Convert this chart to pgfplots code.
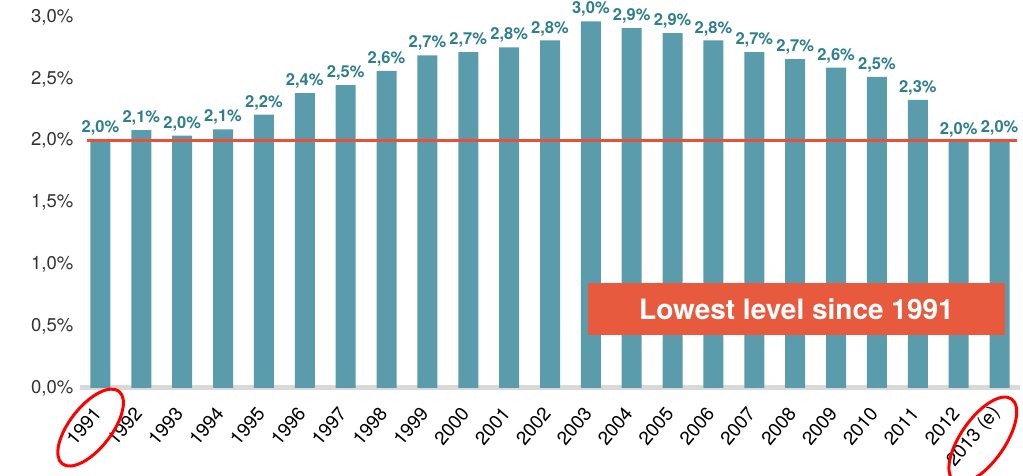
\documentclass[border=0pt]{standalone}
\usepackage{pgfplots}
\pgfplotsset{compat=1.18}
\usepackage{pgfplotstable}
\usepackage{fontspec}
\setmainfont{TeX Gyre Heros}

\definecolor{barteal}{HTML}{5A9CAC}
\definecolor{labteal}{HTML}{2F7F8E}
\definecolor{redline}{HTML}{E8503A}
\definecolor{boxred}{HTML}{E85A3D}
\definecolor{axisgray}{HTML}{D9D9D9}
\definecolor{ticktext}{HTML}{333333}

% x = position, v = bar height, lab = printed label
\pgfplotstableread{
x  v     lab
0  2.005 2.0
1  2.086 2.1
2  2.040 2.0
3  2.092 2.1
4  2.210 2.2
5  2.385 2.4
6  2.450 2.5
7  2.565 2.6
8  2.690 2.7
9  2.715 2.7
10 2.755 2.8
11 2.810 2.8
12 2.965 3.0
13 2.910 2.9
14 2.870 2.9
15 2.810 2.8
16 2.715 2.7
17 2.660 2.7
18 2.590 2.6
19 2.515 2.5
20 2.330 2.3
21 1.990 2.0
22 2.005 2.0
}\rates

\begin{document}
\begin{tikzpicture}
\begin{axis}[
    at={(0pt,0pt)}, anchor=south west,
    scale only axis,
    width=940pt, height=371pt,
    xmin=-0.5, xmax=22.5,
    ymin=0, ymax=3,
    clip=false,
    axis x line=bottom,
    axis y line=left,
    y axis line style={draw=none},
    x axis line style={-, line width=5pt, color=axisgray},
    ytick={0,0.5,1,1.5,2,2.5,3},
    yticklabels={{0,0\%},{0,5\%},{1,0\%},{1,5\%},{2,0\%},{2,5\%},{3,0\%}},
    yticklabel style={font=\fontsize{18.5}{20}\selectfont, text=ticktext, xshift=-1pt},
    ytick style={draw=none},
    xtick={0,...,22},
    xticklabels={1991,1992,1993,1994,1995,1996,1997,1998,1999,2000,2001,2002,2003,2004,2005,2006,2007,2008,2009,2010,2011,2012,2013 (e)},
    xticklabel style={font=\fontsize{19}{21}\selectfont, text=black, rotate=50, anchor=east, xshift=-12pt, yshift=-9pt},
    xtick style={draw=none},
    extra x ticks={-0.5,0.5,...,22.5},
    extra x tick labels={},
    extra x tick style={tick style={draw=axisgray, line width=4pt}, major tick length=10pt, tick align=center},
    ybar, bar width=20pt,
    nodes near coords={\pgfmathprintnumber[fixed,fixed zerofill,precision=1,use comma,assume math mode=true]{\pgfplotspointmeta}\%},
    nodes near coords style={font=\bfseries\fontsize{16.5}{18}\selectfont, text=labteal, anchor=south, yshift=1pt},
]
\addplot[fill=barteal, draw=none, point meta=\thisrow{lab}] table[x=x, y=v] {\rates};

\draw[redline, line width=3pt] (axis cs:-0.33,2) -- (axis cs:22.43,2);

\fill[boxred] (axis cs:11.93,0.43) rectangle (axis cs:22.13,0.85);
\node[text=white, font=\bfseries\fontsize{28}{30}\selectfont] at (axis cs:17.03,0.64) {Lowest level since 1991};

\draw[red, line width=3pt, rotate around={52:(axis cs:-0.24,-0.32)}] (axis cs:-0.24,-0.32) ellipse [x radius=46pt, y radius=21pt];
\draw[red, line width=3pt, rotate around={55:(axis cs:21.59,-0.42)}] (axis cs:21.59,-0.42) ellipse [x radius=50pt, y radius=22pt];
\end{axis}
\pgfresetboundingbox
\path (-80pt,-88pt) rectangle (943pt,388pt);
\end{tikzpicture}
\end{document}
